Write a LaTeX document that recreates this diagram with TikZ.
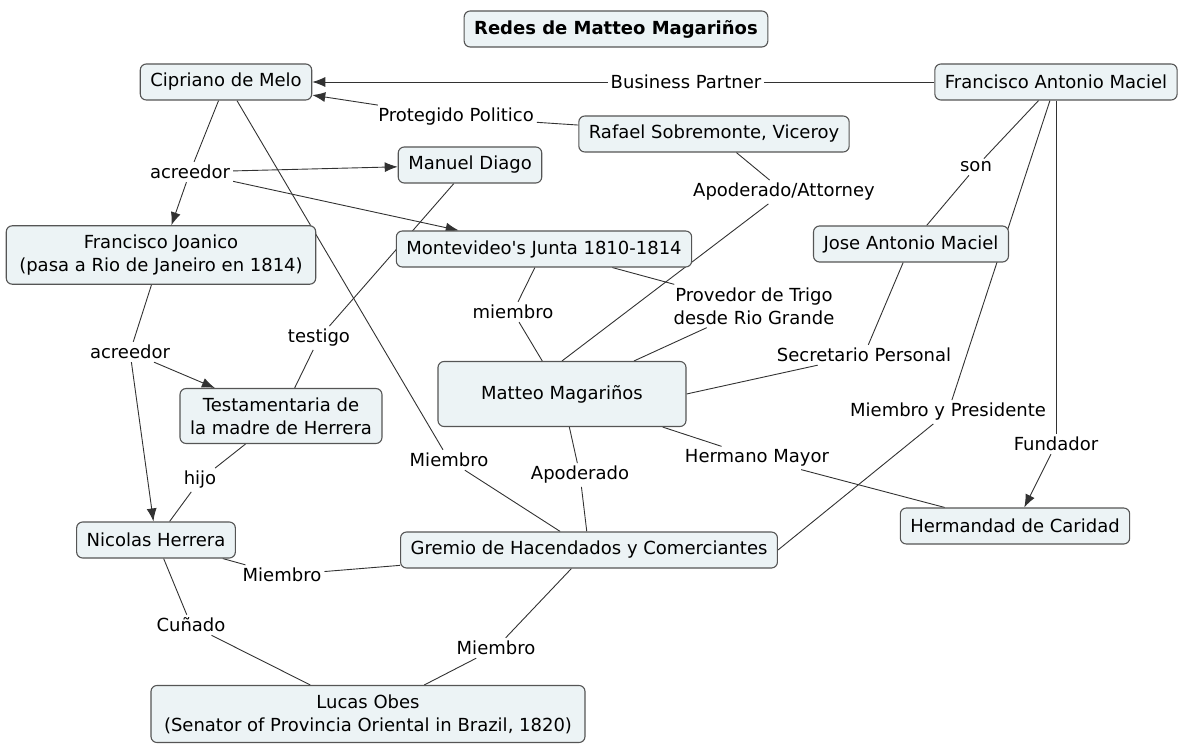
\documentclass[tikz,border=0pt]{standalone}
\usepackage{fontspec}
\setmainfont{DejaVu Sans}[Ligatures=TeXOff]
\usetikzlibrary{arrows.meta,backgrounds}
\definecolor{cmapfill}{RGB}{236,243,245}
\definecolor{cmapedge}{RGB}{85,85,85}
\definecolor{cmapline}{RGB}{50,50,50}
\tikzset{
  concept/.style={draw=cmapedge,fill=cmapfill,rounded corners=6pt,line width=1.1pt,
    font=\fontsize{18}{23}\selectfont,align=center,inner xsep=10pt,inner ysep=9pt,
    minimum height=36pt},
  linkword/.style={font=\fontsize{18}{23}\selectfont,align=center,inner sep=3pt},
  cline/.style={draw=cmapline,line width=0.9pt},
}

\begin{document}
\begin{tikzpicture}[x=1pt,y=-1pt,>={Latex[length=13pt,width=10pt]}]
  \useasboundingbox (0,0) rectangle (1179,746);
  % concepts
  \node[concept,font=\fontsize{18}{23}\selectfont\bfseries] (title) at (616,29) {Redes de Matteo Magariños};
  \node[concept] (cipriano) at (226,82) {Cipriano de Melo};
  \node[concept] (fam) at (1056,82) {Francisco Antonio Maciel};
  \node[concept] (rafael) at (714,134) {Rafael Sobremonte, Viceroy};
  \node[concept] (diago) at (470,165) {Manuel Diago};
  \node[concept,inner xsep=13pt] (joanico) at (161,255) {Francisco Joanico\\(pasa a Rio de Janeiro en 1814)};
  \node[concept] (junta) at (544,249) {Montevideo's Junta 1810-1814};
  \node[concept] (jam) at (911,244) {Jose Antonio Maciel};
  \node[concept,minimum width=248pt,minimum height=65pt] (matteo) at (562,394) {Matteo Magariños};
  \node[concept] (testam) at (281,416) {Testamentaria de\\la madre de Herrera};
  \node[concept] (hermandad) at (1015,526) {Hermandad de Caridad};
  \node[concept] (nicolas) at (156,540) {Nicolas Herrera};
  \node[concept] (gremio) at (589,550) {Gremio de Hacendados y Comerciantes};
  \node[concept,inner xsep=13pt] (lucas) at (368,714) {Lucas Obes\\(Senator of Provincia Oriental in Brazil, 1820)};
  % linking phrases
  \node[linkword] (lbusiness) at (686,82) {Business Partner};
  \node[linkword] (lprotegido) at (456,117) {Protegido Politico};
  \node[linkword] (lacreedorA) at (190,172) {acreedor};
  \node[linkword] (lattorney) at (784,192) {Apoderado/Attorney};
  \node[linkword] (lson) at (976,167) {son};
  \node[linkword] (lacreedorB) at (130,352) {acreedor};
  \node[linkword] (ltestigo) at (319,338) {testigo};
  \node[linkword] (lmiembroJ) at (513,312) {miembro};
  \node[linkword] (lprovedor) at (754,306) {Provedor de Trigo\\desde Rio Grande};
  \node[linkword] (lsecretario) at (864,355) {Secretario Personal};
  \node[linkword] (lpresidente) at (948,412) {Miembro y Presidente};
  \node[linkword] (lfundador) at (1056,444) {Fundador};
  \node[linkword] (lhermano) at (757,458) {Hermano Mayor};
  \node[linkword] (lapoderado) at (580,475) {Apoderado};
  \node[linkword] (lmiembroC) at (449,460) {Miembro};
  \node[linkword] (lhijo) at (200,480) {hijo};
  \node[linkword] (lmiembroN) at (282,575) {Miembro};
  \node[linkword] (lcunado) at (191,625) {Cuñado};
  \node[linkword] (lmiembroG) at (496,648) {Miembro};
  % connections
  \begin{scope}[on background layer]
    \draw[cline] (fam) -- (lbusiness);
    \draw[cline,->] (lbusiness) -- (cipriano);
    \draw[cline] (rafael) -- (lprotegido);
    \draw[cline,->] (lprotegido) -- (cipriano);
    \draw[cline] (cipriano) -- (lacreedorA);
    \draw[cline,->] (lacreedorA) -- (diago);
    \draw[cline,->] (lacreedorA) -- (junta);
    \draw[cline,->] (lacreedorA) -- (joanico);
    \draw[cline] (cipriano) -- (lmiembroC);
    \draw[cline] (lmiembroC) -- (gremio);
    \draw[cline] (rafael) -- (lattorney);
    \draw[cline] (lattorney) -- (matteo.north);
    \draw[cline] (fam) -- (lson);
    \draw[cline] (lson) -- (jam);
    \draw[cline] (fam) -- (lpresidente);
    \draw[cline] (lpresidente) -- (gremio.east);
    \draw[cline] (fam) -- (lfundador);
    \draw[cline,->] (lfundador) -- (hermandad);
    \draw[cline] (jam) -- (lsecretario);
    \draw[cline] (lsecretario) -- (matteo.east);
    \draw[cline] (junta) -- (lmiembroJ);
    \draw[cline] (lmiembroJ) -- (matteo);
    \draw[cline] (junta) -- (lprovedor);
    \draw[cline] (lprovedor) -- (matteo);
    \draw[cline] (diago) -- (ltestigo);
    \draw[cline] (ltestigo) -- (testam);
    \draw[cline] (joanico) -- (lacreedorB);
    \draw[cline,->] (lacreedorB) -- (testam);
    \draw[cline,->] (lacreedorB) -- (nicolas);
    \draw[cline] (testam) -- (lhijo);
    \draw[cline] (lhijo) -- (nicolas);
    \draw[cline] (matteo) -- (lapoderado);
    \draw[cline] (lapoderado) -- (gremio);
    \draw[cline] (matteo) -- (lhermano);
    \draw[cline] (lhermano) -- (hermandad);
    \draw[cline] (nicolas) -- (lmiembroN);
    \draw[cline] (lmiembroN) -- (gremio);
    \draw[cline] (nicolas) -- (lcunado);
    \draw[cline] (lcunado) -- (lucas);
    \draw[cline] (gremio) -- (lmiembroG);
    \draw[cline] (lmiembroG) -- (lucas);
  \end{scope}
\end{tikzpicture}
\end{document}
